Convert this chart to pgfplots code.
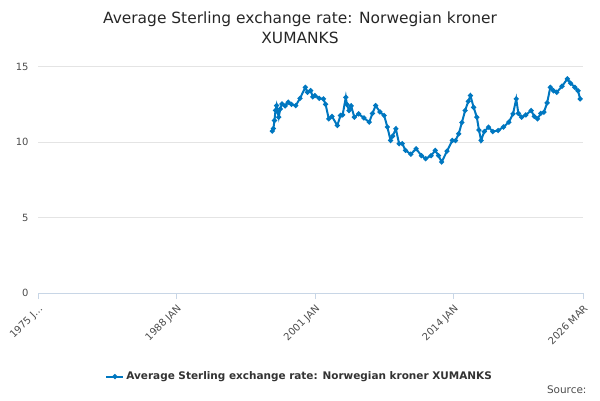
\documentclass[border=0pt]{standalone}
\usepackage{pgfplots}
\pgfplotsset{compat=1.18}
\usepackage{fontspec}
\setmainfont{DejaVu Sans}
\definecolor{ser}{RGB}{0,119,192}
\definecolor{grd}{RGB}{228,228,228}
\definecolor{axc}{RGB}{200,214,230}
\begin{document}
\begin{tikzpicture}[x=1bp,y=1bp]
\useasboundingbox (0,0) rectangle (600,400);
\node[font=\fontsize{15.5}{20}\selectfont, align=center, text=black!85] at (300,372) {Average Sterling exchange rate: Norwegian kroner\\XUMANKS};
\begin{axis}[at={(38bp,107bp)}, anchor=south west, scale only axis,
 width=545bp, height=249bp,
 xmin=1975, xmax=2026.17, ymin=0, ymax=16.5,
 axis y line=left, axis x line=bottom, y axis line style={draw=none},
 x axis line style={draw=axc,-},
 xtick={1975,1988,2001,2014,2026.17},
 xticklabels={1975 J\ldots,1988 JAN,2001 JAN,2014 JAN,2026 MAR},
 minor x tick num=3,
 x tick label style={rotate=45, anchor=north east, font=\fontsize{10}{12}\selectfont, text=black!70},
 xtick style={draw=axc}, minor tick style={draw=axc},
 tick align=outside, major tick length=6bp, minor tick length=6bp,
 ytick={0,5,10,15}, ymajorgrids, grid style={grd},
 ytick style={draw=none},
 y tick label style={font=\fontsize{10}{12}\selectfont, text=black!70},
 /pgf/number format/assume math mode=true,
 legend style={at={(0.48,-0.30)}, anchor=north, draw=none, font=\bfseries\fontsize{10.5}{12}\selectfont, text=black!80},
 legend cell align=left,
]
\addplot[ser, line width=2pt, mark=*, mark size=1.4pt] coordinates {
(1997.0,10.73)(1997.1,10.9)(1997.2,11.43)(1997.3,12.1)(1997.4,12.42)(1997.5,12.0)(1997.6,11.65)(1997.75,12.2)(1997.9,12.53)(1998.2,12.4)(1998.5,12.64)(1998.8,12.5)(1999.2,12.42)(1999.6,12.9)(2000.1,13.63)(2000.3,13.3)(2000.6,13.41)(2000.8,13.0)(2001.0,13.08)(2001.4,12.9)(2001.8,12.86)(2002.0,12.5)(2002.3,11.54)(2002.6,11.7)(2003.1,11.10)(2003.4,11.76)(2003.6,11.8)(2003.9,12.97)(2004.0,12.5)(2004.2,12.09)(2004.4,12.4)(2004.7,11.65)(2005.1,11.87)(2005.6,11.6)(2006.1,11.32)(2006.4,11.9)(2006.7,12.42)(2007.1,12.0)(2007.5,11.76)(2007.8,11.0)(2008.1,10.11)(2008.3,10.4)(2008.6,10.88)(2008.9,9.89)(2009.2,9.9)(2009.5,9.45)(2010.0,9.2)(2010.5,9.56)(2011.0,9.1)(2011.4,8.90)(2011.9,9.1)(2012.3,9.45)(2012.6,9.1)(2012.9,8.68)(2013.4,9.4)(2013.9,10.11)(2014.2,10.1)(2014.5,10.55)(2014.8,11.3)(2015.1,12.09)(2015.4,12.7)(2015.6,13.08)(2015.9,12.3)(2016.2,11.65)(2016.4,10.8)(2016.6,10.11)(2016.9,10.7)(2017.3,10.99)(2017.7,10.7)(2018.2,10.77)(2018.7,11.0)(2019.2,11.32)(2019.6,11.87)(2019.9,12.86)(2020.1,11.9)(2020.4,11.65)(2020.8,11.8)(2021.3,12.09)(2021.6,11.7)(2021.9,11.54)(2022.2,11.9)(2022.5,11.98)(2022.8,12.6)(2023.1,13.63)(2023.4,13.4)(2023.7,13.30)(2024.2,13.7)(2024.7,14.19)(2025.0,13.9)(2025.4,13.63)(2025.7,13.4)(2025.9,12.86)
};
\addlegendentry{Average Sterling exchange rate: Norwegian kroner XUMANKS}
\end{axis}
\node[anchor=east, font=\fontsize{10.5}{12}\selectfont, text=black!70] at (590,10) {Source:};
\end{tikzpicture}
\end{document}
